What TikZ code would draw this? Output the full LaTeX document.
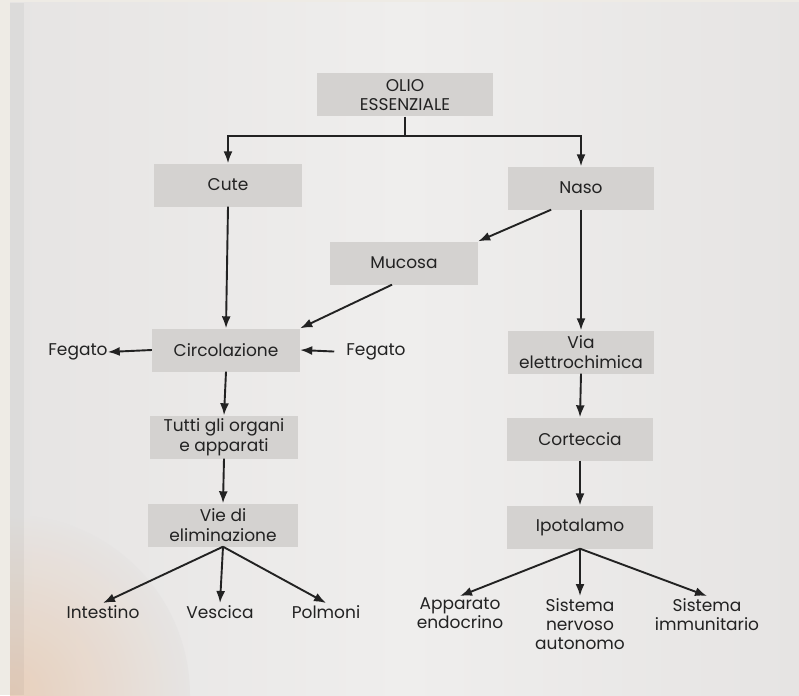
\documentclass[tikz,border=0pt]{standalone}
\usepackage{fontspec}
\setmainfont{Poppins}
\usetikzlibrary{arrows.meta}
\usetikzlibrary{calc}
\definecolor{color_flow_frame}{HTML}{EEEBE5}
\definecolor{color_flow_page}{HTML}{E6E4E3}
\definecolor{color_flow_pagelight}{HTML}{EFEEED}
\definecolor{color_flow_warm}{HTML}{E9CDB6}
\definecolor{color_flow_box}{HTML}{D4D2D0}
\definecolor{color_flow_ink}{HTML}{222222}
\def\flowboxwidth{146pt}
\def\flowboxheight{43pt}

\begin{document}
\begin{tikzpicture}[x=1pt, y=-1pt,
        flowbox/.style={fill=color_flow_box, minimum width=\flowboxwidth, minimum height=\flowboxheight,
            inner sep=1pt, align=center, text=color_flow_ink, font=\fontsize{17}{19.5}\selectfont},
        flowleaf/.style={inner sep=2pt, align=center, text=color_flow_ink, font=\fontsize{17}{19}\selectfont},
        flowarrow/.style={draw=color_flow_ink, line width=1.9pt, -{Latex[length=12pt, width=9pt]}}]
        \useasboundingbox (0,0) rectangle (799,695);
        % page of the book
        \fill[color_flow_frame] (0,0) rectangle (799,695);
        \fill[left color=color_flow_page, right color=color_flow_page, middle color=color_flow_pagelight] (10,3) rectangle (799,695);
        \begin{scope}
            \clip (10,3) rectangle (799,695);
            \shade[inner color=color_flow_warm, outer color=color_flow_page, opacity=0.85] (10,695) circle (180);
        \end{scope}
        \fill[black, opacity=0.04] (10,3) rectangle (24,695);

        % boxes
        \node[flowbox, minimum width=176pt] (olio) at (405,95) {OLIO\\ESSENZIALE};
        \node[flowbox, minimum width=148pt] (cute) at (228,185) {Cute};
        \node[flowbox] (naso) at (581,188) {Naso};
        \node[flowbox, minimum width=148pt] (mucosa) at (404,263) {Mucosa};
        \node[flowbox, minimum width=148pt] (circ) at (226,350) {Circolazione};
        \node[flowbox] (via) at (581,352) {Via\\elettrochimica};
        \node[flowbox, minimum width=148pt] (organi) at (224,437) {Tutti gli organi\\e apparati};
        \node[flowbox, minimum width=150pt] (vie) at (223,525) {Vie di\\eliminazione};
        \node[flowbox] (cort) at (580,439) {Corteccia};
        \node[flowbox] (ipot) at (580,527) {Ipotalamo};

        % side labels
        \node[flowleaf] (fegatoout) at (78,352) {Fegato};
        \node[flowleaf] (fegatoin) at (376,352) {Fegato};

        % end points
        \node[flowleaf, anchor=north] (intest) at (103,603) {Intestino};
        \node[flowleaf, anchor=north] (vesc) at (220,603) {Vescica};
        \node[flowleaf, anchor=north] (polm) at (326,603) {Polmoni};
        \node[flowleaf, anchor=north] (endo) at (460,596) {Apparato\\endocrino};
        \node[flowleaf, anchor=north] (nerv) at (580,596) {Sistema\\nervoso\\autonomo};
        \node[flowleaf, anchor=north] (immu) at (707,596) {Sistema\\immunitario};

        % connectors
        \coordinate (split) at ($(olio.south)+(0,19)$);
        \draw[draw=color_flow_ink, line width=1.9pt] (olio.south) -- (split);
        \draw[flowarrow] (split) -| (cute.north);
        \draw[flowarrow] (split) -| (naso.north);
        \draw[flowarrow] (naso.216) -- (mucosa.north east);
        \draw[flowarrow] ($(mucosa.south)+(-12,0)$) -- (circ.north east);
        \draw[flowarrow] (cute.south) -- (circ.north);
        \draw[flowarrow] (circ.west) -- ($(fegatoout.east)+(-2,0)$);
        \draw[flowarrow, shorten <=10pt] (fegatoin.west) -- (circ.east);
        \draw[flowarrow] (circ.south) -- (organi.north);
        \draw[flowarrow] (organi.south) -- (vie.north);
        \draw[flowarrow] (naso.south) -- (via.north);
        \draw[flowarrow] (via.south) -- (cort.north);
        \draw[flowarrow] (cort.south) -- (ipot.north);
        \foreach \leaf in {intest, vesc, polm}
            \draw[flowarrow] (vie.south) -- (\leaf.north);
        \foreach \leaf in {endo, nerv, immu}
            \draw[flowarrow] (ipot.south) -- (\leaf.north);
\end{tikzpicture}
\end{document}
